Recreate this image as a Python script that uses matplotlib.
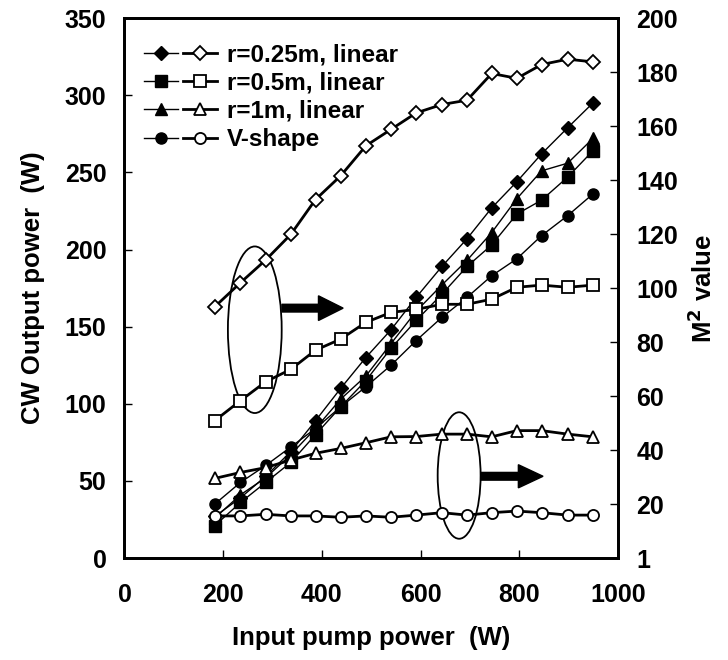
import matplotlib
matplotlib.use("Agg")
import matplotlib.pyplot as plt
from matplotlib.patches import Ellipse, FancyArrow
from matplotlib.legend_handler import HandlerTuple

plt.rcParams['font.family'] = ['Liberation Sans', 'DejaVu Sans']
plt.rcParams['font.weight'] = 'bold'
plt.rcParams['mathtext.default'] = 'bf'

# Input pump power (W)
pump = [183, 235, 286, 337, 387, 438, 489, 540, 591, 643, 694, 744, 795, 845, 898, 949]

# CW output power (W), left axis
out_r025 = [27, 39, 53, 69, 89, 110, 130, 148, 169, 189, 207, 227, 244, 262, 279, 295]
out_r05 = [21, 36, 49, 62, 80, 98, 115, 136, 154, 171, 189, 203, 223, 232, 247, 264]
out_r1 = [26, 41, 52, 67, 84, 103, 118, 139, 160, 177, 193, 211, 233, 251, 256, 272]
out_v = [35, 49, 60, 72, 84, 98, 111, 125, 141, 156, 169, 183, 194, 209, 222, 236]

# M^2 value, right axis
m2_r025 = [93.1, 102.0, 110.4, 119.9, 132.8, 141.6, 152.7, 158.8, 164.9, 168.0, 169.6, 179.5, 177.7, 182.8, 184.8, 183.8]
m2_r05 = [50.9, 58.3, 65.3, 69.9, 77.0, 81.1, 87.3, 91.0, 92.1, 94.0, 94.0, 95.9, 100.3, 101.1, 100.3, 101.1]
m2_r1 = [29.5, 31.7, 33.5, 36.3, 38.8, 40.6, 42.7, 44.9, 45.0, 45.9, 45.9, 44.9, 47.2, 47.2, 45.9, 44.9]
m2_v = [15.6, 15.6, 16.2, 15.6, 15.6, 15.1, 15.6, 15.1, 15.9, 16.8, 15.9, 16.8, 17.4, 16.8, 15.9, 15.9]

labels = ['r=0.25m, linear', 'r=0.5m, linear', 'r=1m, linear', 'V-shape']
markers = ['D', 's', '^', 'o']
msizes = [7.5, 8.5, 8.5, 8]

x_ticks = [0, 200, 400, 600, 800, 1000]
left_ticks = [0, 50, 100, 150, 200, 250, 300, 350]
right_ticks = [0, 20, 40, 60, 80, 100, 120, 140, 160, 180, 200]
right_ticklabels = ['1', '20', '40', '60', '80', '100', '120', '140', '160', '180', '200']

fig = plt.figure(figsize=(7.28, 6.60), dpi=100)
ax = fig.add_axes([0.171, 0.1545, 0.678, 0.818])
ax2 = ax.twinx()

filled_handles = []
for ys, mk, ms in zip([out_r025, out_r05, out_r1, out_v], markers, msizes):
    h, = ax.plot(pump, ys, color='black', lw=1.0, marker=mk, ms=ms,
                 mfc='black', mec='black', mew=1.0)
    filled_handles.append(h)

open_handles = []
for ys, mk, ms in zip([m2_r025, m2_r05, m2_r1, m2_v], markers, msizes):
    h, = ax2.plot(pump, ys, color='black', lw=2.0, marker=mk, ms=ms,
                  mfc='white', mec='black', mew=1.3)
    open_handles.append(h)

ax.set_xlim(0, 1000)
ax.set_ylim(0, 350)
ax2.set_ylim(0, 200)
ax.set_xticks(x_ticks)
ax.set_yticks(left_ticks)
ax2.set_yticks(right_ticks)
ax2.set_yticklabels(right_ticklabels)

for a in (ax, ax2):
    for s in a.spines.values():
        s.set_linewidth(2.0)
    a.tick_params(direction='in', length=6, width=1.0, labelsize=18, pad=13)
ax.tick_params(axis='x', pad=18)

ax.set_xlabel('Input pump power  (W)', fontsize=18.5, fontweight='bold', labelpad=14)
ax.set_ylabel('CW Output power  (W)', fontsize=18.5, fontweight='bold', labelpad=14)
ax2.set_ylabel('M$^2$ value', fontsize=18.5, fontweight='bold', rotation=90, labelpad=8)

# ellipses and arrows pointing the open-symbol curves to the right axis
ax.add_patch(Ellipse((264, 148), 109, 108, fill=False, lw=1.3, color='black', zorder=5))
ax.add_patch(FancyArrow(319, 162, 124, 0, width=5.0, head_width=16, head_length=50,
                        length_includes_head=True, color='black', zorder=5))
ax.add_patch(Ellipse((678, 53.5), 87, 82, fill=False, lw=1.3, color='black', zorder=5))
ax.add_patch(FancyArrow(722, 53, 126, 0, width=5.0, head_width=15, head_length=50,
                        length_includes_head=True, color='black', zorder=5))

leg = ax2.legend(list(zip(filled_handles, open_handles)), labels,
                 handler_map={tuple: HandlerTuple(ndivide=None, pad=0.2)},
                 loc='upper left', bbox_to_anchor=(0.005, 0.985), frameon=False,
                 fontsize=17.5, handlelength=3.0, handletextpad=0.4,
                 labelspacing=0.22, borderaxespad=0.3)

fig.savefig('out.png', dpi=100)
